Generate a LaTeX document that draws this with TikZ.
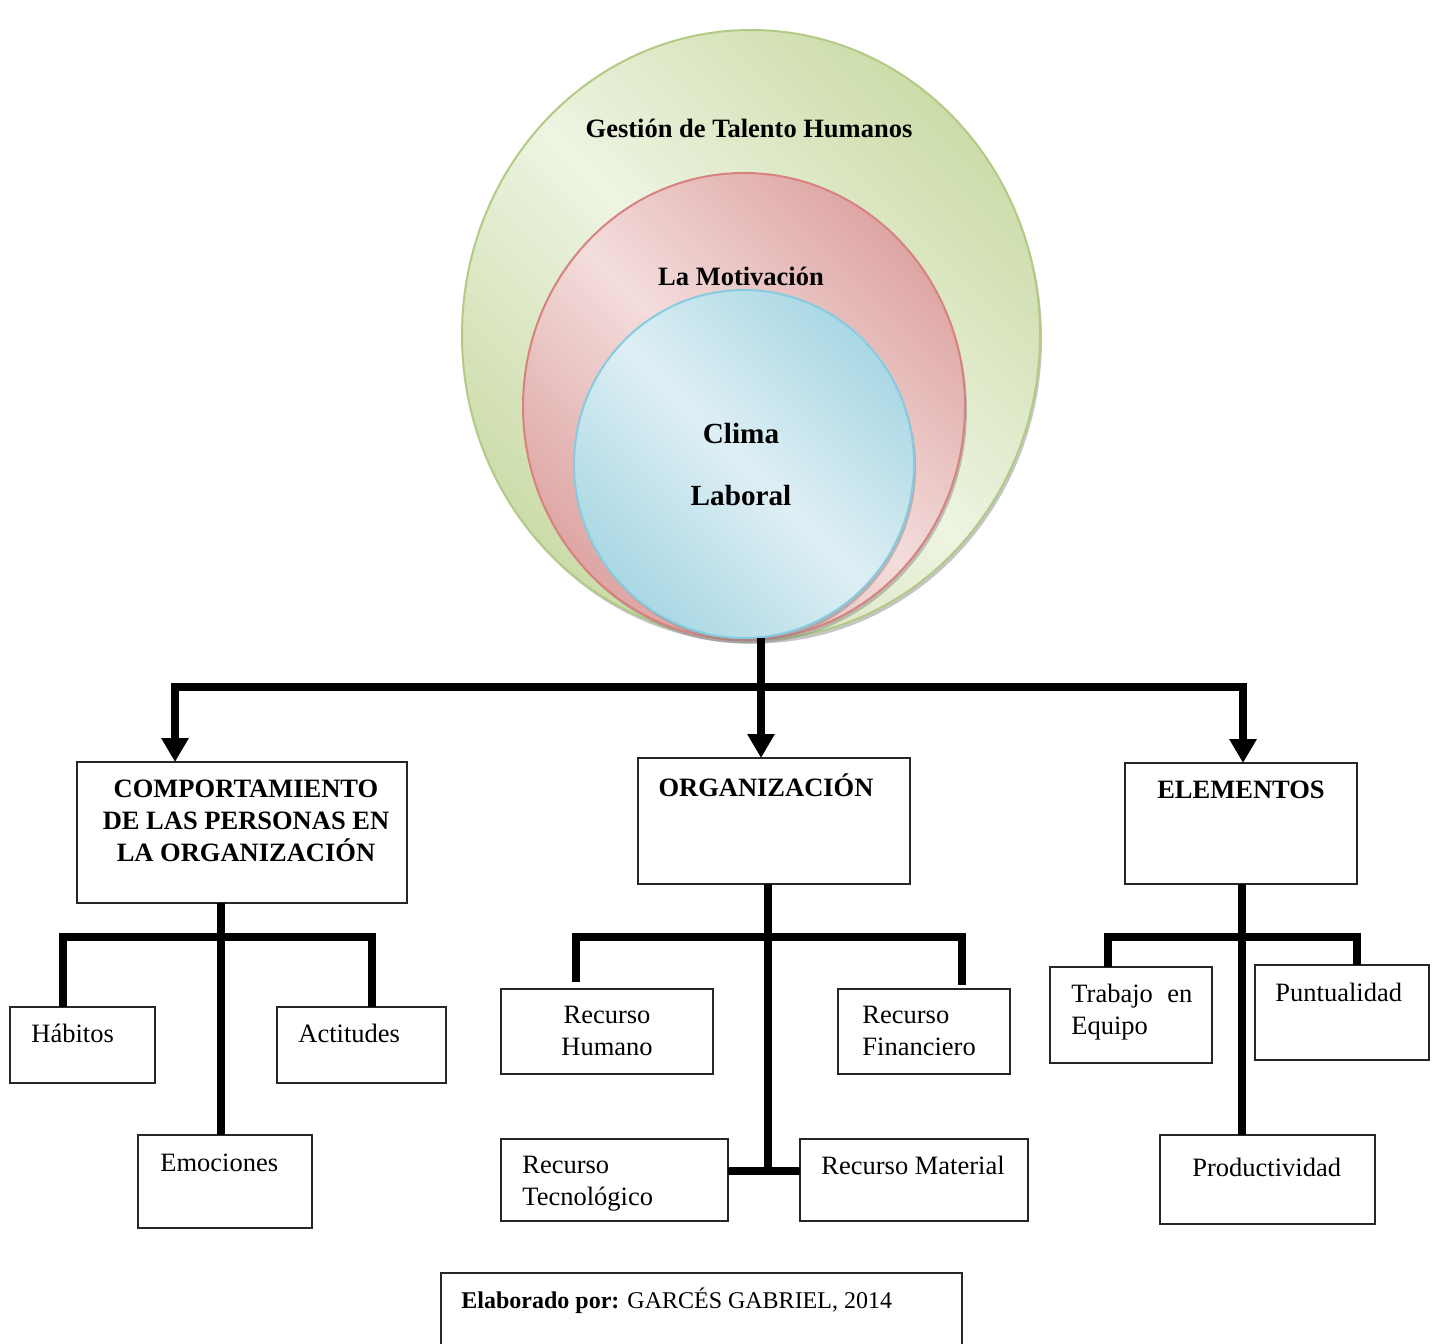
\documentclass[tikz,border=0pt]{standalone}
\usepackage{fontspec}
\setmainfont{Liberation Serif}
\usetikzlibrary{arrows.meta,shapes.geometric,shadows}
\definecolor{gL}{HTML}{EEF4E2}
\definecolor{gD}{HTML}{C8D9A2}
\definecolor{gB}{HTML}{B2CA86}
\definecolor{rL}{HTML}{F3DDDC}
\definecolor{rD}{HTML}{DB9F9D}
\definecolor{rB}{HTML}{D8827F}
\definecolor{bL}{HTML}{DEEFF4}
\definecolor{bD}{HTML}{A3D5E2}
\definecolor{bB}{HTML}{86CBDF}
\pgfdeclarehorizontalshading{gshade}{100bp}{color(0bp)=(gD); color(22bp)=(gD); color(50bp)=(gL); color(78bp)=(gD); color(100bp)=(gD)}
\pgfdeclarehorizontalshading{rshade}{100bp}{color(0bp)=(rD); color(22bp)=(rD); color(50bp)=(rL); color(78bp)=(rD); color(100bp)=(rD)}
\pgfdeclarehorizontalshading{bshade}{100bp}{color(0bp)=(bD); color(22bp)=(bD); color(50bp)=(bL); color(78bp)=(bD); color(100bp)=(bD)}
\begin{document}
\begin{tikzpicture}[x=0.5pt,y=-0.5pt,
  venn/.style={ellipse, inner sep=0pt, outer sep=0pt, line width=1pt, shading angle=45,
    drop shadow={opacity=0.45, shadow xshift=1pt, shadow yshift=-1.8pt}},
  box/.style={draw=black!85, line width=1pt, fill=white, inner sep=0pt, outer sep=0pt},
  conn/.style={line width=4pt, line join=miter},
  arr/.style={conn, -{Triangle[width=13pt,length=12pt]}},
  txt/.style={inner sep=0pt, font=\fontsize{13.25}{16}\selectfont},
  btxt/.style={inner sep=0pt, font=\fontsize{13.25}{16}\selectfont\bfseries},
  ctxt/.style={inner sep=0pt, font=\fontsize{14.6}{31}\selectfont\bfseries},
  ftxt/.style={inner sep=0pt, font=\fontsize{12}{14}\selectfont}]
\useasboundingbox (0,0) rectangle (1439,1343);
\fill[white] (0,0) rectangle (1439,1343);

% nested ellipses
\node[venn, shading=gshade, draw=gB, minimum width=289pt, minimum height=305pt] (green) at (751,335) {};
\node[venn, shading=rshade, draw=rB, minimum width=221pt, minimum height=233.5pt] (red) at (744,406.5) {};
\node[venn, shading=bshade, draw=bB, minimum width=170pt, minimum height=174pt] (blue) at (744,464) {};
\node[btxt, anchor=base] (tG) at (749,137) {Gestión de Talento Humanos};
\node[btxt, anchor=base] (tR) at (741,285) {La Motivación};
\node[ctxt, anchor=north, align=center] (tB) at (741,423) {Clima\\Laboral};

% level 1 boxes
\node[box, minimum width=165pt, minimum height=70.5pt] (A) at (242,832.5) {};
\node[box, minimum width=136pt, minimum height=63pt] (B) at (774,821) {};
\node[box, minimum width=116pt, minimum height=60.5pt] (C) at (1241,823.5) {};
\node[btxt, anchor=north, align=center] (At) at (246,780) {COMPORTAMIENTO\\DE LAS PERSONAS EN\\LA ORGANIZACIÓN};
\node[btxt, anchor=base] (Bt) at (766,796) {ORGANIZACIÓN};
\node[btxt, anchor=base] (Ct) at (1241,798) {ELEMENTOS};

% level 2 boxes
\node[box, minimum width=72.5pt, minimum height=38pt] (H) at (82.5,1045) {};
\node[box, minimum width=84.5pt, minimum height=38pt] (Ac) at (361.5,1045) {};
\node[box, minimum width=87pt, minimum height=46.5pt] (Em) at (225,1181.5) {};
\node[box, minimum width=106pt, minimum height=42.5pt] (RH) at (607,1031.5) {};
\node[box, minimum width=86pt, minimum height=42.5pt] (RF) at (924,1031.5) {};
\node[box, minimum width=113.5pt, minimum height=41pt] (RT) at (614.5,1180) {};
\node[box, minimum width=114pt, minimum height=41pt] (RM) at (914,1180) {};
\node[box, minimum width=81pt, minimum height=48pt] (TE) at (1131,1015) {};
\node[box, minimum width=87pt, minimum height=47.5pt] (PU) at (1342,1012.5) {};
\node[box, minimum width=107.5pt, minimum height=44.5pt] (PR) at (1267.5,1179.5) {};

\node[txt, anchor=base west] (Ht) at (31,1042) {Hábitos};
\node[txt, anchor=base west] (Act) at (298,1042) {Actitudes};
\node[txt, anchor=base west] (Emt) at (160,1171) {Emociones};
\node[txt, anchor=north, align=center] (RHt) at (607,1006) {Recurso\\Humano};
\node[txt, anchor=north west, align=left] (RFt) at (862,1006) {Recurso\\Financiero};
\node[txt, anchor=north west, align=left] (RTt) at (522,1156) {Recurso\\Tecnológico};
\node[txt, anchor=base west] (RMt) at (821,1174) {Recurso Material};
\node[txt, anchor=north west, text width=60.5pt, align=left] (TEt) at (1071,984) {Trabajo\hfill en\\Equipo};
\node[txt, anchor=base west] (PUt) at (1275,1001) {Puntualidad};
\node[txt, anchor=base west] (PRt) at (1192,1176) {Productividad};

% footer
\node[box, minimum width=260.5pt, minimum height=38.5pt] (F) at (701.5,1311.5) {};
\node[ftxt, anchor=base west] (Ft) at (461,1308) {\textbf{Elaborado por:} GARCÉS GABRIEL, 2014};

% coordinates
\coordinate (J0) at (761,687);
\coordinate (xA) at (175,687);
\coordinate (xC) at (1243,687);
\coordinate (jA) at (221,937);
\coordinate (xA1) at (63,937);
\coordinate (xA2) at (372,937);
\coordinate (jB) at (768,937);
\coordinate (eB1) at (576,982);
\coordinate (eB2) at (962,985);
\coordinate (jBT) at (768,1171);
\coordinate (jC) at (1242,937);
\coordinate (xC1) at (1108,937);
\coordinate (xC2) at (1357,937);

% main connectors
\draw[conn] (blue.south -| J0) -- (J0);
\draw[arr] (J0) -- (B.north -| J0);
\draw[arr] (J0) -| (A.north -| xA);
\draw[arr] (J0) -| (C.north -| xC);

% subtree A
\draw[conn] (A.south -| jA) -- (Em.north -| jA);
\draw[conn] (H.north -| xA1) |- (jA) -| (Ac.north -| xA2);

% subtree B
\draw[conn] (B.south -| jB) -- (jBT);
\draw[conn] (eB1) |- (jB) -| (eB2);
\draw[conn] (RT.east |- jBT) -- (RM.west |- jBT);

% subtree C
\draw[conn] (C.south -| jC) -- (PR.north -| jC);
\draw[conn] (TE.north -| xC1) |- (jC) -| (PU.north -| xC2);
\end{tikzpicture}
\end{document}
